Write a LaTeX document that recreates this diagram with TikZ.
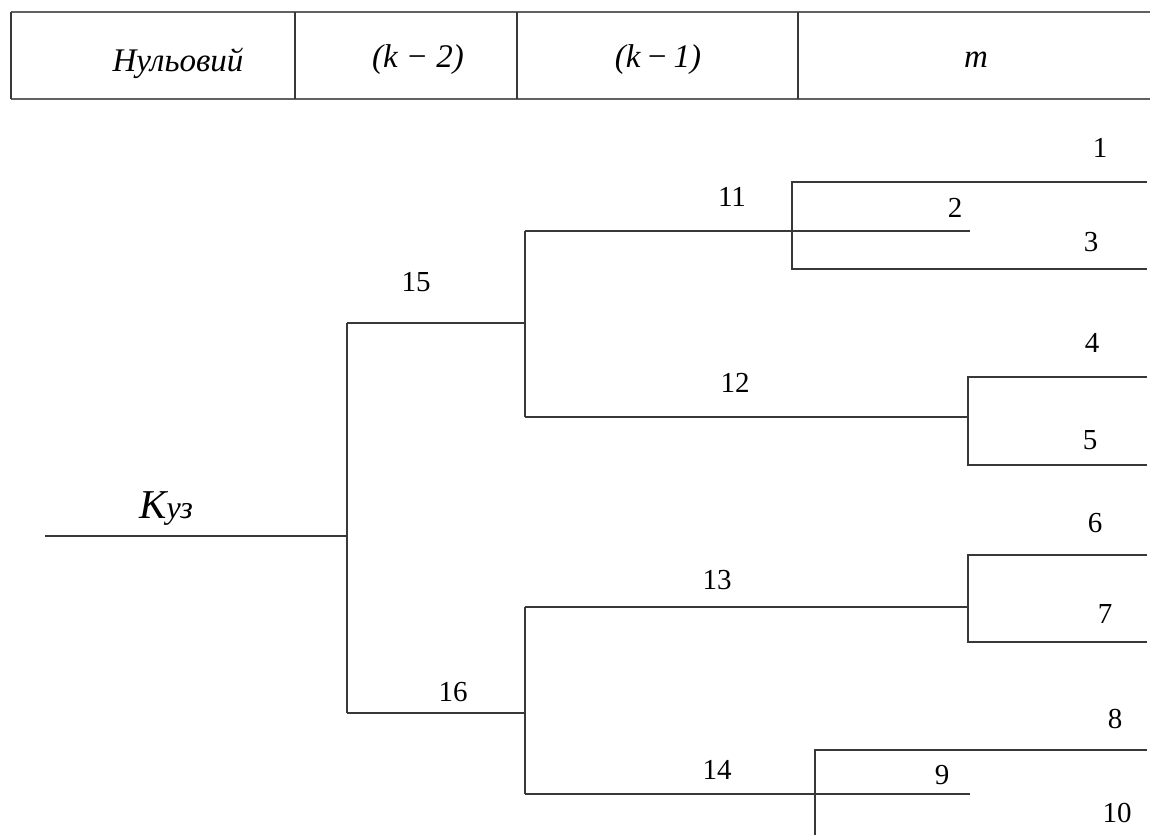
\documentclass[tikz,border=0pt]{standalone}
\usepackage{fontspec}
\setmainfont{Liberation Serif}
\begin{document}
\begin{tikzpicture}[x=1pt,y=-1pt,
  branch/.style={line width=1.7pt, draw=black!78},
  tline/.style={line width=2.8pt, draw=black!62},
  tvline/.style={line width=1.7pt, draw=black!78},
  num/.style={font=\fontsize{29}{32}\selectfont, inner sep=0pt},
  head/.style={font=\fontsize{33}{36}\selectfont\itshape, inner sep=0pt, anchor=base}]
\useasboundingbox (0,0) rectangle (1150,835);
% header table
\coordinate (tl) at (11,12);
\coordinate (tr) at (1150,12);
\coordinate (bl) at (11,99);
\coordinate (br) at (1150,99);
\draw[tline] (tl) -- (tr);
\draw[tline] (bl) -- (br);
\foreach \x [count=\i] in {11,295,517,798}{
  \coordinate (c\i t) at (\x,12);
  \coordinate (c\i b) at (\x,99);
  \draw[tvline] (c\i t) -- (c\i b);
}
\node[head] (h0) at (178,71) {Нульовий};
\node[head] (h1) at (418,67) {(k − 2)};
\node[head] (h2) at (658,67) {(k\,−\,1)};
\node[head] (h3) at (976,67) {m};
% tree coordinates
\coordinate (root) at (45,536);
\coordinate (n0) at (347,536);
\coordinate (a15) at (347,323);
\coordinate (b15) at (525,323);
\coordinate (a16) at (347,713);
\coordinate (b16) at (525,713);
\coordinate (a11) at (525,231);
\coordinate (e11) at (792,231);
\coordinate (e2) at (970,231);
\coordinate (a12) at (525,417);
\coordinate (e12) at (968,417);
\coordinate (a13) at (525,607);
\coordinate (e13) at (968,607);
\coordinate (a14) at (525,794);
\coordinate (e14) at (815,794);
\coordinate (e9) at (970,794);
\coordinate (s1) at (792,182);
\coordinate (t1) at (1147,182);
\coordinate (s3) at (792,269);
\coordinate (t3) at (1147,269);
\coordinate (s4) at (968,377);
\coordinate (t4) at (1147,377);
\coordinate (s5) at (968,465);
\coordinate (t5) at (1147,465);
\coordinate (s6) at (968,555);
\coordinate (t6) at (1147,555);
\coordinate (s7) at (968,642);
\coordinate (t7) at (1147,642);
\coordinate (s8) at (815,750);
\coordinate (t8) at (1147,750);
\coordinate (s10) at (815,835);
% tree lines
\draw[branch] (root) -- (n0);
\draw[branch] (a15) -- (a16);
\draw[branch] (a15) -- (b15);
\draw[branch] (a16) -- (b16);
\draw[branch] (a11) -- (a12);
\draw[branch] (a13) -- (a14);
\draw[branch] (a11) -- (e11) -- (e2);
\draw[branch] (a12) -- (e12);
\draw[branch] (a13) -- (e13);
\draw[branch] (a14) -- (e14) -- (e9);
\draw[branch] (t1) -- (s1) -- (s3) -- (t3);
\draw[branch] (t4) -- (s4) -- (s5) -- (t5);
\draw[branch] (t6) -- (s6) -- (s7) -- (t7);
\draw[branch] (t8) -- (s8) -- (s10);
% labels
\node[inner sep=0pt, anchor=base] (kuz) at (166,518) {{\fontsize{41}{44}\selectfont\itshape K}{\fontsize{32}{34}\selectfont\itshape уз}};
\node[num] (l15) at (416,282) {15};
\node[num] (l16) at (453,692) {16};
\node[num] (l11) at (732,197) {11};
\node[num] (l12) at (735,383) {12};
\node[num] (l13) at (717,580) {13};
\node[num] (l14) at (717,770) {14};
\node[num] (l1) at (1100,148) {1};
\node[num] (l2) at (955,208) {2};
\node[num] (l3) at (1091,242) {3};
\node[num] (l4) at (1092,343) {4};
\node[num] (l5) at (1090,440) {5};
\node[num] (l6) at (1095,523) {6};
\node[num] (l7) at (1105,614) {7};
\node[num] (l8) at (1115,719) {8};
\node[num] (l9) at (942,775) {9};
\node[num] (l10) at (1117,813) {10};
\end{tikzpicture}
\end{document}
